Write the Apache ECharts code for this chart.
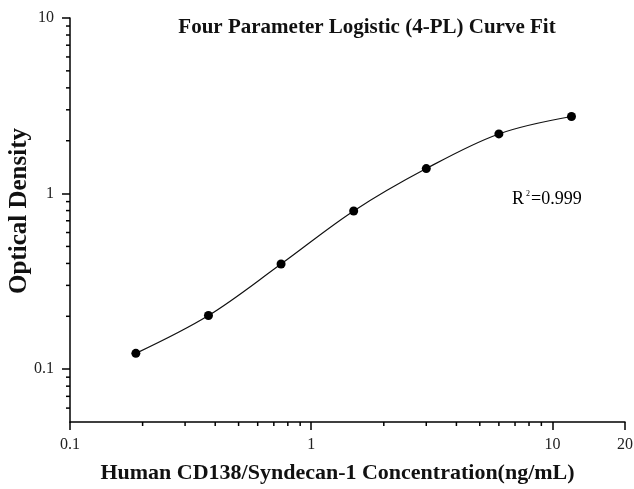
<!DOCTYPE html>
<html>
<head>
<meta charset="utf-8">
<script src="https://cdn.jsdelivr.net/npm/echarts@6/dist/echarts.min.js"></script>
<style>html,body{margin:0;padding:0;background:#fff;}#c{width:634px;height:489px;}</style>
</head>
<body>
<div id="c"></div>
<script>
// Data
const concentrations = [0.1875, 0.375, 0.75, 1.5, 3, 6, 12];
const odValues = [0.123, 0.202, 0.397, 0.796, 1.388, 2.186, 2.747];
const xMinorTicks = [0.2,0.3,0.4,0.5,0.6,0.7,0.8,0.9,2,3,4,5,6,7,8,9];
const yMinorTicks = [0.06,0.07,0.08,0.09,0.2,0.3,0.4,0.5,0.6,0.7,0.8,0.9,2,3,4,5,6,7,8,9];
const titleText = 'Four Parameter Logistic (4-PL) Curve Fit';
const xAxisTitle = 'Human CD138/Syndecan-1 Concentration(ng/mL)';
const yAxisTitle = 'Optical Density';
const r2Text = '0.999';

const serif = '"Liberation Serif", "DejaVu Serif", serif';
const chart = echarts.init(document.getElementById('c'), null, {renderer: 'canvas'});

function minorTickRenderer(dir) {
  return function (params, api) {
    const cs = params.coordSys;
    let shape;
    if (dir === 'x') {
      const x = api.coord([api.value(0), 1])[0];
      const y = cs.y + cs.height;
      shape = {x1: x, y1: y, x2: x, y2: y + 4};
    } else {
      const y = api.coord([1, api.value(1)])[1];
      const x = cs.x;
      shape = {x1: x, y1: y, x2: x - 4, y2: y};
    }
    return {type: 'line', shape: shape, style: {stroke: '#000', lineWidth: 1.5}};
  };
}

const option = {
  backgroundColor: '#fff',
  animation: false,
  title: {
    text: titleText,
    left: 362, top: 12, textAlign: 'center',
    textStyle: {fontFamily: serif, fontWeight: 'bold', fontSize: 21, color: '#111'}
  },
  grid: {left: 70, right: 9, top: 18, bottom: 67, containLabel: false, outerBoundsMode: 'none'},
  xAxis: {
    type: 'log', logBase: 10, min: 0.1, max: 20,
    name: xAxisTitle, nameLocation: 'middle', nameGap: 40, nameMoveOverlap: false,
    nameTextStyle: {fontFamily: serif, fontWeight: 'bold', fontSize: 22, color: '#111', padding: [0, 20, 0, 0]},
    axisLine: {show: true, lineStyle: {color: '#000', width: 1.5}},
    axisTick: {show: true, inside: false, length: 8, lineStyle: {color: '#000', width: 1.5}},
    axisLabel: {fontFamily: serif, fontSize: 16, color: '#222', margin: 15},
    splitLine: {show: false}, minorTick: {show: false}
  },
  yAxis: {
    type: 'log', logBase: 10, min: 0.05, max: 10,
    name: yAxisTitle, nameLocation: 'middle', nameGap: 38, nameMoveOverlap: false,
    nameTextStyle: {fontFamily: serif, fontWeight: 'bold', fontSize: 25, color: '#111', padding: [0, 0, 0, 18]},
    axisLine: {show: true, lineStyle: {color: '#000', width: 1.5}},
    axisTick: {show: true, inside: false, length: 8, lineStyle: {color: '#000', width: 1.5}},
    axisLabel: {fontFamily: serif, fontSize: 16, color: '#222', margin: 16, showMinLabel: false},
    splitLine: {show: false}
  },
  graphic: [{
    type: 'text', left: 512, top: 190,
    style: {
      text: '{r|R}{s|2}{t|=' + r2Text + '}',
      rich: {
        r: {fontFamily: serif, fontSize: 18, color: '#222'},
        s: {fontFamily: serif, fontSize: 8, color: '#222', verticalAlign: 'top', padding: [0, 1, 10, 2]},
        t: {fontFamily: serif, fontSize: 18, color: '#222'}
      }
    }
  }],
  series: [
    {
      type: 'line', data: concentrations.map((c, i) => [c, odValues[i]]),
      smooth: 0.35, symbol: 'circle', symbolSize: 9,
      lineStyle: {color: '#111', width: 1.2},
      itemStyle: {color: '#000'}, z: 3
    },
    {
      type: 'custom', renderItem: minorTickRenderer('x'), clip: false,
      data: xMinorTicks.map(v => [v, 1]), z: 2, silent: true
    },
    {
      type: 'custom', renderItem: minorTickRenderer('y'), clip: false,
      data: yMinorTicks.map(v => [1, v]), z: 2, silent: true
    }
  ]
};
chart.setOption(option);
</script>
</body>
</html>
